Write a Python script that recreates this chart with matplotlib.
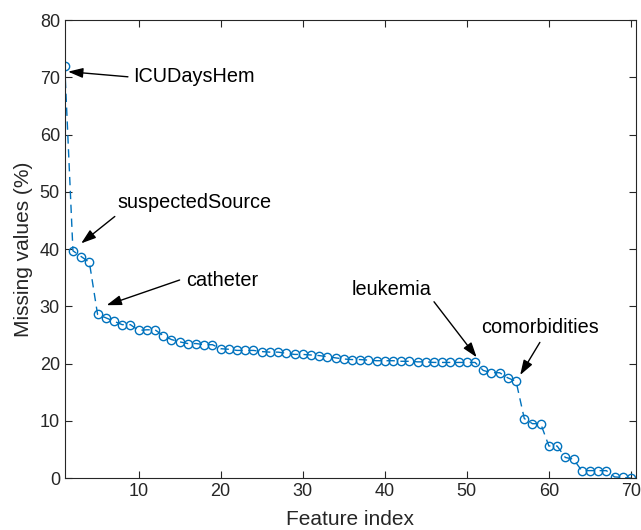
import matplotlib
matplotlib.use("Agg")
import matplotlib.pyplot as plt
import numpy as np

plt.rcParams['font.family'] = ['Liberation Sans', 'DejaVu Sans']

missing = [72.0, 39.7, 38.7, 37.7, 28.6, 28.0, 27.4, 26.8, 26.8, 25.8,
           25.9, 25.9, 24.9, 24.2, 23.8, 23.5, 23.5, 23.3, 23.3, 22.6,
           22.5, 22.3, 22.3, 22.3, 22.1, 22.0, 22.0, 21.8, 21.6, 21.6,
           21.5, 21.4, 21.2, 21.0, 20.8, 20.7, 20.7, 20.6, 20.5, 20.5,
           20.5, 20.4, 20.4, 20.3, 20.3, 20.2, 20.2, 20.2, 20.2, 20.2,
           20.2, 18.8, 18.4, 18.4, 17.5, 16.9, 10.4, 9.5, 9.5, 5.6,
           5.6, 3.6, 3.3, 1.3, 1.3, 1.3, 1.3, 0.2, 0.1, 0.0]
feature_index = np.arange(1, len(missing) + 1)

x_ticks = [10, 20, 30, 40, 50, 60, 70]
y_ticks = [0, 10, 20, 30, 40, 50, 60, 70, 80]

# annotations: label, arrow head (x, y), arrow tail (x, y), text anchor (x, y), ha, va
annot_labels = ['ICUDaysHem', 'suspectedSource', 'catheter', 'leukemia', 'comorbidities']
annot_target = [(1.4, 71.0), (3.0, 41.0), (6.1, 30.2), (51.2, 21.1), (56.5, 18.0)]
annot_tail = [(8.7, 70.1), (7.1, 45.7), (15.0, 34.6), (46.0, 30.8), (58.9, 23.7)]
annot_text = [(9.3, 70.1), (7.4, 46.5), (15.8, 34.6), (45.7, 31.2), (58.9, 24.6)]
annot_ha = ['left', 'left', 'left', 'right', 'center']
annot_va = ['center', 'bottom', 'center', 'bottom', 'bottom']

blue = (0.0, 0.447, 0.741)

fig = plt.figure(figsize=(6.41, 5.30), dpi=100)
ax = fig.add_axes([0.101, 0.098, 0.891, 0.864])

ax.plot(feature_index, missing, linestyle=(0, (6, 4)), color=blue, lw=1.0,
        marker='o', markersize=6.0, markerfacecolor='none', markeredgecolor=blue,
        markeredgewidth=1.0)

for lab, tgt, tail, txt, ha, va in zip(annot_labels, annot_target, annot_tail,
                                       annot_text, annot_ha, annot_va):
    ax.annotate('', xy=tgt, xytext=tail,
                arrowprops=dict(arrowstyle='-|>,head_length=0.9,head_width=0.3',
                                color='black', lw=1.0, shrinkA=0, shrinkB=0))
    ax.text(txt[0], txt[1], lab, ha=ha, va=va, fontsize=14.3, color='black')

ax.set_xlim(1, 70.6)
ax.set_ylim(0, 80)
ax.set_xticks(x_ticks)
ax.set_yticks(y_ticks)
ax.tick_params(direction='in', length=5, width=0.8, labelsize=13, top=True, right=True,
               labeltop=False, labelright=False, colors='#262626')
for s in ax.spines.values():
    s.set_linewidth(0.8)
    s.set_color('#262626')
ax.set_xlabel('Feature index', fontsize=15, color='#262626', labelpad=7)
ax.set_ylabel('Missing values (%)', fontsize=15, color='#262626', labelpad=5)

fig.savefig('out.png', dpi=100)
